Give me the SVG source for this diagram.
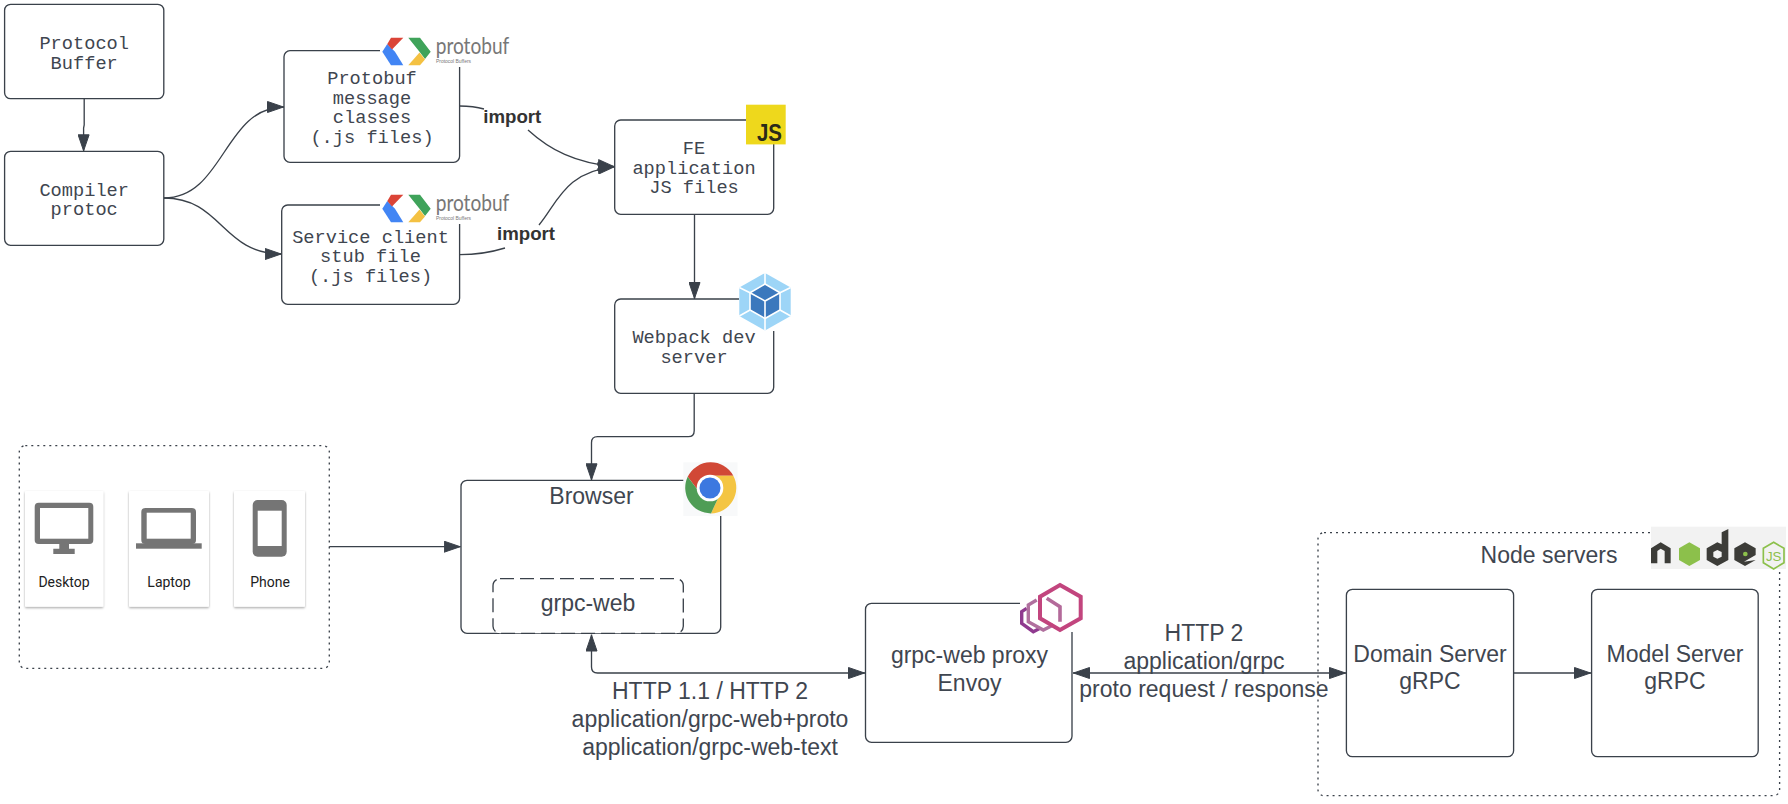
<svg xmlns="http://www.w3.org/2000/svg" width="1788" height="804" viewBox="0 0 1788 804">
<style>
.box{fill:#fff;stroke:#3a414a;stroke-width:1.33}
.cn{fill:none;stroke:#3a414a;stroke-width:1.33}
.ar{marker-end:url(#ah)}
.mono{font-family:"Liberation Mono",monospace;font-size:18.67px;fill:#3f4650;text-anchor:middle}
.sans{font-family:"Liberation Sans",Arial,sans-serif;font-size:23px;fill:#3f4650;text-anchor:middle}
.imp{font-family:"Liberation Sans",Arial,sans-serif;font-size:18.67px;font-weight:700;fill:#333;text-anchor:middle}
.dev{font-family:Roboto,sans-serif;font-size:14px;fill:#212121;text-anchor:middle}
.card{fill:#fff;filter:url(#sh)}
.ic{fill:#757575}
.dot{fill:none;stroke:#3a414a;stroke-width:1.33;stroke-dasharray:2 4}
.pbt{font-family:Lato,"Liberation Sans",sans-serif;font-size:24px;fill:#777;font-weight:400}
.pbs{font-family:"Liberation Sans",sans-serif;font-size:5px;fill:#777}
</style>
<defs>
<marker id="ah" viewBox="0 0 17 12" refX="17" refY="6" markerWidth="17" markerHeight="12" markerUnits="userSpaceOnUse" orient="auto-start-reverse"><path d="M0.5 0.5L16.5 6L0.5 11.5Z" fill="#3a414a" stroke="#3a414a" stroke-width="1"/></marker>
<filter id="sh" x="-10%" y="-10%" width="120%" height="120%"><feDropShadow dx="0" dy="1.2" stdDeviation="1.2" flood-color="#000" flood-opacity=".35"/></filter>
<g id="pb">
<rect x="380" y="35" width="132" height="32" fill="#fff"/>
<path d="M382.3 51.7L387.3 44L395 51.7L403.3 65.3H391Z" fill="#4285f4"/>
<path d="M391 37.7H403.3L392 49.5L387.3 44Z" fill="#db4437"/>
<path d="M408.3 37.7H420L430.7 51.7L425 59L419.5 51.7Z" fill="#3fa35a"/>
<path d="M408.3 65.3L419.5 52.5L425 59.5L420 65.3Z" fill="#f4c142"/>
<text class="pbt" x="435.7" y="54.3" textLength="73.6" lengthAdjust="spacingAndGlyphs">protobuf</text>
<text class="pbs" x="436" y="63.3" textLength="35" lengthAdjust="spacingAndGlyphs">Protocol Buffers</text>
</g>
</defs>
<rect width="1788" height="804" fill="#fff"/>

<g id="connectors">
<path class="cn ar" d="M84.2 98.7V125L83.6 128V151.3"/>
<path class="cn ar" d="M164 198C224 198 224 107 284 107"/>
<path class="cn ar" d="M164 198C222 198 222 254 281.7 254"/>
<path class="cn" d="M459.6 106C468 106 477 107 484 109"/>
<path class="cn ar" d="M528 130C550 150 575 163 614.7 166.7"/>
<path class="cn" d="M459.6 254.7C477 254.7 492 252 505 248"/>
<path class="cn ar" d="M539 225C558 202 565 172 614.7 166.7"/>
<path class="cn ar" d="M694.5 214.3V299"/>
<path class="cn ar" d="M694.2 393.3V430.7Q694.2 436.7 688.2 436.7H597.5Q591.5 436.7 591.5 442.7V480.3"/>
<path class="cn ar" d="M329.3 546.7H460.7"/>
<path class="cn ar" d="M591.5 634.5V667Q591.5 673 597.5 673H865" style="marker-start:url(#ah)"/>
<path class="cn ar" d="M1073 673H1346" style="marker-start:url(#ah)"/>
<path class="cn ar" d="M1513.6 673H1591"/>
<text class="imp" x="512.3" y="122.7">import</text>
<text class="imp" x="526" y="240">import</text>
<text class="sans"><tspan x="710" y="699.3">HTTP 1.1 / HTTP 2</tspan><tspan x="710" y="727.3">application/grpc-web+proto</tspan><tspan x="710" y="755">application/grpc-web-text</tspan></text>
<text class="sans"><tspan x="1204" y="640.7">HTTP 2</tspan><tspan x="1204" y="668.7">application/grpc</tspan><tspan x="1204" y="696.7">proto request / response</tspan></text>
</g>

<g id="protocol-buffer"><rect class="box" x="4.6" y="4.3" width="159.2" height="94.4" rx="6"/><text class="mono"><tspan x="84.2" y="49.3">Protocol</tspan><tspan x="84.2" y="68.7">Buffer</tspan></text></g>
<g id="compiler"><rect class="box" x="4.6" y="151.3" width="159.2" height="94" rx="6"/><text class="mono"><tspan x="84.2" y="196">Compiler</tspan><tspan x="84.2" y="215.4">protoc</tspan></text></g>
<g id="message-classes"><rect class="box" x="284" y="50.7" width="175.6" height="111.6" rx="6"/><use href="#pb"/><text class="mono"><tspan x="372" y="84.3">Protobuf</tspan><tspan x="372" y="104">message</tspan><tspan x="372" y="123.3">classes</tspan><tspan x="372" y="142.7">(.js files)</tspan></text></g>
<g id="service-stub"><rect class="box" x="281.7" y="205" width="177.9" height="99.3" rx="6"/><use href="#pb" y="157"/><text class="mono"><tspan x="370.5" y="242.7">Service client</tspan><tspan x="370.5" y="262.3">stub file</tspan><tspan x="370.5" y="282">(.js files)</tspan></text></g>

<g id="fe-app"><rect class="box" x="614.7" y="120" width="159" height="94.3" rx="6"/>
<rect x="746" y="104.7" width="39.7" height="39.7" fill="#eed81c"/>
<text x="757" y="140.7" font-family="Liberation Sans,sans-serif" font-weight="700" font-size="24" fill="#2a2a1a" textLength="25" lengthAdjust="spacingAndGlyphs">JS</text>
<text class="mono"><tspan x="694" y="154">FE</tspan><tspan x="694" y="173.7">application</tspan><tspan x="694" y="193.3">JS files</tspan></text></g>

<g id="webpack"><rect class="box" x="614.7" y="299" width="159" height="94.3" rx="6"/>
<rect x="739" y="272" width="52" height="59" fill="#fff"/>
<path d="M765 273L790.7 287.5V316L765 330.5L739.3 316V287.5Z" fill="#9dd5f7"/>
<path d="M765 273V284M790.7 287.5L780 292.7M790.7 316L780 310M765 330.5V318M739.3 316L750 310M739.3 287.5L750 292.7" stroke="#fff" stroke-width="1.6" fill="none"/>
<path d="M765 284L780 292.7V310L765 318.5L750 310V292.7Z" fill="#3b78bd" stroke="#fff" stroke-width="1.6"/>
<path d="M750 292.7L765 301L780 292.7M765 301V318.5" stroke="#fff" stroke-width="1.6" fill="none"/>
<text class="mono"><tspan x="694" y="343.3">Webpack dev</tspan><tspan x="694" y="363">server</tspan></text></g>

<g id="devices"><rect class="dot" x="19.3" y="445.7" width="310" height="222.6" rx="6"/>
<g id="desktop"><rect class="card" x="25" y="491" width="78.3" height="115.7" rx="1"/><rect class="ic" x="34.7" y="502.7" width="58.6" height="41.3" rx="4"/><rect x="40" y="508" width="48.3" height="30.7" fill="#fff"/><path class="ic" d="M59.3 544H69V548.7H74.7V554H53.3V548.7H59.3Z"/><text class="dev" x="64" y="587.3">Desktop</text></g>
<g id="laptop"><rect class="card" x="129" y="491" width="80" height="115.7" rx="1"/><rect class="ic" x="141.3" y="508" width="54.7" height="36" rx="4"/><rect x="146.7" y="512.7" width="44" height="26" fill="#fff"/><rect class="ic" x="136" y="543.3" width="65.7" height="5.4"/><text class="dev" x="169" y="587">Laptop</text></g>
<g id="phone"><rect class="card" x="234" y="491" width="71" height="115.7" rx="1"/><rect class="ic" x="252.7" y="500" width="34" height="56.7" rx="5"/><rect x="257.7" y="510.7" width="24" height="35.3" fill="#fff"/><text class="dev" x="270" y="587.3">Phone</text></g>
</g>

<g id="browser"><rect class="box" x="461" y="480.3" width="259.7" height="153" rx="6"/>
<rect x="683.3" y="462.3" width="54.2" height="53.7" fill="#f8f9fa"/>
<path d="M687.7 476.7A25.7 25.7 0 0 1 733.3 475.7H710L700 493Z" fill="#d14836"/>
<path d="M733.3 475.7A25.7 25.7 0 0 1 711 513.4L720.5 493L710 475.7Z" fill="#f4c542"/>
<path d="M711 513.4A25.7 25.7 0 0 1 687.7 476.7L700 493L720.5 493Z" fill="#4f9d55"/>
<circle cx="710" cy="488" r="13.3" fill="#fff"/><circle cx="710" cy="488" r="10.5" fill="#3c78e0"/>
<text class="sans" x="591.5" y="504">Browser</text></g>
<g id="grpc-web"><rect x="493" y="578.7" width="190.3" height="54.6" rx="7" fill="#fff" stroke="#3a414a" stroke-width="1.33" stroke-dasharray="14 6"/><text class="sans" x="588" y="610.7">grpc-web</text></g>

<g id="envoy"><rect class="box" x="865.5" y="603.3" width="206.5" height="139" rx="6"/>
<rect x="1020" y="584" width="62" height="48" fill="#fff"/>
<path d="M1026.7 608.3L1021.7 611.7V623.3L1033.3 631.7L1040 628.3" fill="none" stroke="#8f3a8f" stroke-width="3.4"/>
<path d="M1036.7 600L1028.3 605V621.7L1043.3 630L1053.3 625" fill="none" stroke="#b0709e" stroke-width="3.4"/>
<path d="M1060 585L1080.7 596.7V618.3L1060 630L1040 618.3V596.7Z" fill="none" stroke="#c2457e" stroke-width="4"/>
<path d="M1046.7 598.3L1060 606.7V621.7" fill="none" stroke="#b36a9a" stroke-width="3.6"/>
<text class="sans"><tspan x="969.5" y="663.3">grpc-web proxy</tspan><tspan x="969.5" y="691">Envoy</tspan></text></g>

<g id="node-servers"><rect class="dot" x="1318" y="532.7" width="461.6" height="263" rx="6" stroke-dasharray="2 3"/>
<g transform="translate(1640 515) scale(.33333)">
<rect x="33" y="35" width="405" height="127" fill="#f2f2f2"/>
<path d="M33 145V100L62 82L92 100V145H74V108L62 101L52 108V145Z" fill="#3c3c38"/>
<path d="M148 82L180 100V135L148 153L117 135V100Z" fill="#8cc04b"/>
<path fill-rule="evenodd" d="M245 52L265 42V135L232 153L200 135V100L232 82L245 88ZM232 105L220 111V125L232 131L245 125V111Z" fill="#3c3c38"/>
<path d="M283 100L315 82L347 100V120L312 140L347 135L315 153L283 135Z" fill="#3c3c38"/>
<circle cx="316" cy="117" r="7" fill="#8cc04b"/>
<path d="M401 82L432 100V143L401 162L370 143V100Z" fill="none" stroke="#8cc04b" stroke-width="5"/>
<text x="401" y="137" text-anchor="middle" font-family="Liberation Sans,sans-serif" font-size="40" fill="#8cc04b">JS</text>
</g>
<text class="sans" x="1549" y="563.3">Node servers</text></g>
<g id="domain-server"><rect class="box" x="1346.4" y="589.3" width="167.2" height="167.4" rx="6"/><text class="sans"><tspan x="1430" y="661.7">Domain Server</tspan><tspan x="1430" y="689.3">gRPC</tspan></text></g>
<g id="model-server"><rect class="box" x="1591.6" y="589.3" width="166.6" height="167.4" rx="6"/><text class="sans"><tspan x="1675" y="661.7">Model Server</tspan><tspan x="1675" y="689.3">gRPC</tspan></text></g>
</svg>
